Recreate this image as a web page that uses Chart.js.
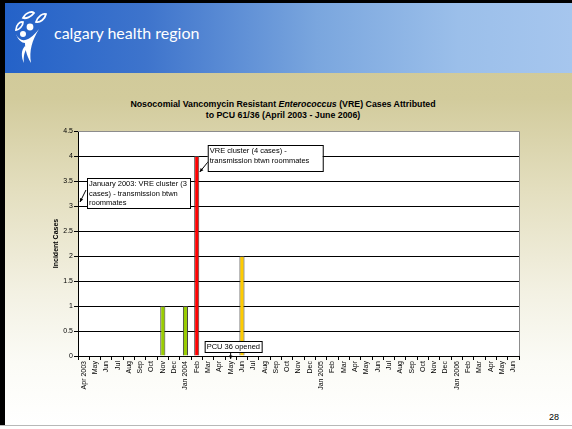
<!DOCTYPE html>
<html>
<head>
<meta charset="utf-8">
<script src="https://cdn.jsdelivr.net/npm/chart.js@4/dist/chart.umd.min.js"></script>
<style>
  html, body { margin: 0; padding: 0; }
  body { width: 572px; height: 429px; position: relative; overflow: hidden; background: #fff; font-family: Arial, "Liberation Sans", sans-serif; }
  #slide { position: absolute; left: 0; top: 0; width: 572px; height: 429px; background: #000; }
  #bg { position: absolute; left: 5px; top: 3px; width: 567px; height: 422px;
        background: linear-gradient(to bottom, #cfc895 0px, #d2cb9c 95px, #e4dfc0 190px, #f3f1e3 290px, #fbfbf6 360px, #ffffff 422px); }
  #bottomline { position: absolute; left: 0; top: 425px; width: 572px; height: 1px; background: #b8b8b8; }
  #bottomwhite { position: absolute; left: 0; top: 426px; width: 572px; height: 3px; background: #fff; }
  #header { position: absolute; left: 5px; top: 3px; width: 567px; height: 70px;
            background: linear-gradient(to right, #2462c8 0%, #3e74cc 25%, #7aa6de 55%, #9bbfea 80%, #a6c6ee 100%); }
  #brand { position: absolute; left: 54px; top: 23px; color: #fff; font-family: Lato, "Open Sans", sans-serif; font-size: 16px; }
  #logo { position: absolute; left: 14px; top: 10px; }
  #title { position: absolute; left: 83px; width: 400px; top: 99px; text-align: center; font-weight: bold; font-size: 8.8px; line-height: 11px; color: #000; }
  #pagenum { position: absolute; left: 549px; top: 412px; font-size: 9px; color: #000; }
  canvas { position: absolute; left: 0; top: 0; }
</style>
</head>
<body>
<div id="slide"></div>
<div id="bg"></div>
<div id="bottomline"></div>
<div id="bottomwhite"></div>
<div id="header"></div>
<svg id="logo" width="36" height="56" viewBox="0 0 36 56">
  <g fill="none" stroke="#fff" stroke-width="1.8">
    <path d="M9 8 C 12 2, 18 1, 20 3 C 17 7, 12 9, 9 8 Z"/>
    <path d="M22 12 C 24 6, 29 3, 32 4 C 31 9, 26 13, 22 12 Z"/>
    <path d="M2 20 C 2 15, 6 11, 9 12 C 9 16, 5 20, 2 20 Z"/>
  </g>
  <g fill="#fff">
    <circle cx="16" cy="17" r="3.4"/>
    <circle cx="9" cy="24" r="3"/>
    <path d="M2 24 C 6 33, 14 33, 25 19 C 18 31, 15 40, 17 53 C 12 45, 11 37, 11 33 C 8 33, 4 30, 2 24 Z"/>
    <path d="M11 36 C 7 40, 7 47, 10 53 C 9 46, 11 41, 13 38 Z"/>
  </g>
</svg>
<div id="brand">calgary health region</div>
<div id="title">Nosocomial Vancomycin Resistant <i>Enterococcus</i> (VRE) Cases Attributed<br>to PCU 61/36 (April 2003 - June 2006)</div>
<div id="pagenum">28</div>
<canvas id="vreChart" width="572" height="429"></canvas>
<script>
// months April 2003 - June 2006
const months = [
    "Apr 2003", "May", "Jun", "Jul", "Aug", "Sep", "Oct", "Nov", "Dec",
    "Jan 2004", "Feb", "Mar", "Apr", "May", "Jun", "Jul", "Aug", "Sep", "Oct", "Nov", "Dec",
    "Jan 2005", "Feb", "Mar", "Apr", "May", "Jun", "Jul", "Aug", "Sep", "Oct", "Nov", "Dec",
    "Jan 2006", "Feb", "Mar", "Apr", "May", "Jun"
];
const cases = [
    0, 0, 0, 0, 0, 0, 0, 1, 0,
    1, 4, 0, 0, 0, 2, 0, 0, 0, 0, 0, 0,
    0, 0, 0, 0, 0, 0, 0, 0, 0, 0, 0, 0,
    0, 0, 0, 0, 0, 0
];
const yTicks = [0, 0.5, 1, 1.5, 2, 2.5, 3, 3.5, 4, 4.5];

// annotation notes: index of month the arrow points at, value, text lines
const notes = [
    { idx: 0, value: 3.1, lines: ["January 2003: VRE cluster (3", "cases) - transmission btwn", "roommates"] },
    { idx: 10, value: 3.68, lines: ["VRE cluster (4 cases) -", "transmission btwn roommates"] },
    { idx: 13, value: 0, lines: ["PCU 36 opened"] }
];

const barColor = v => v >= 4 ? '#ff0000' : (v >= 2 ? '#ffcc00' : '#99cc00');
const FONT = 'Arial, "Liberation Sans", sans-serif';

function arrow(ctx, x1, y1, x2, y2) {
    ctx.beginPath();
    ctx.moveTo(x1, y1);
    ctx.lineTo(x2, y2);
    ctx.stroke();
    const a = Math.atan2(y2 - y1, x2 - x1);
    ctx.beginPath();
    ctx.moveTo(x2, y2);
    ctx.lineTo(x2 - 4 * Math.cos(a - 0.45), y2 - 4 * Math.sin(a - 0.45));
    ctx.lineTo(x2 - 4 * Math.cos(a + 0.45), y2 - 4 * Math.sin(a + 0.45));
    ctx.closePath();
    ctx.fill();
}

function noteBox(ctx, x, y, w, h, lines) {
    ctx.fillStyle = '#fff';
    ctx.fillRect(x, y, w, h);
    ctx.strokeStyle = '#000';
    ctx.lineWidth = 1;
    ctx.strokeRect(x + 0.5, y + 0.5, w, h);
    ctx.fillStyle = '#000';
    ctx.font = '7.5px ' + FONT;
    ctx.textAlign = 'left';
    ctx.textBaseline = 'middle';
    lines.forEach((t, i) => ctx.fillText(t, x + 2, y + 6 + i * 9.6));
}

const slidePlugin = {
    id: 'slidePlugin',
    beforeDraw(chart) {
        const { ctx, chartArea: a } = chart;
        ctx.save();
        ctx.fillStyle = '#fff';
        ctx.fillRect(a.left, a.top, a.right - a.left, a.bottom - a.top);
        ctx.restore();
    },
    afterDraw(chart) {
        const { ctx, chartArea: a } = chart;
        const xs = chart.scales.x, ys = chart.scales.y;
        ctx.save();
        // grey frame top/right
        ctx.strokeStyle = '#8c8c8c';
        ctx.lineWidth = 1;
        ctx.beginPath();
        ctx.moveTo(a.left, a.top + 0.5);
        ctx.lineTo(a.right + 0.5, a.top + 0.5);
        ctx.lineTo(a.right + 0.5, a.bottom);
        ctx.stroke();

        ctx.strokeStyle = '#000';
        ctx.fillStyle = '#000';
        // note 1: arrow to left axis
        const n0 = notes[0];
        arrow(ctx, a.left + 8, ys.getPixelForValue(n0.value) - 11, a.left + 2, ys.getPixelForValue(n0.value) + 1);
        noteBox(ctx, a.left + 9, ys.getPixelForValue(n0.value) - 23, 103, 30, n0.lines);

        // note 2: arrow to top of red bar
        const n1 = notes[1];
        const bx = xs.getPixelForValue(n1.idx);
        const by = ys.getPixelForValue(n1.value);
        ctx.strokeStyle = '#000';
        ctx.fillStyle = '#000';
        arrow(ctx, bx + 12, by - 11, bx + 3, by);
        noteBox(ctx, bx + 11, by - 27, 115, 26, n1.lines);

        // note 3: PCU 36 opened
        const n2 = notes[2];
        const px = xs.getPixelForValue(n2.idx);
        const py = ys.getPixelForValue(n2.value);
        ctx.strokeStyle = '#000';
        ctx.fillStyle = '#000';
        arrow(ctx, px, py - 5, px, py + 3);
        noteBox(ctx, px - 26, py - 15, 57, 11, n2.lines);
        ctx.restore();
    }
};

new Chart(document.getElementById('vreChart'), {
    type: 'bar',
    data: {
        labels: months,
        datasets: [{
            label: 'Incident Cases',
            data: cases,
            backgroundColor: c => barColor(c.raw),
            borderColor: '#3a3a3a',
            borderWidth: c => c.raw > 0 ? 1 : 0,
            barPercentage: 0.9,
            categoryPercentage: 0.5
        }]
    },
    options: {
        responsive: false,
        animation: false,
        devicePixelRatio: 1,
        layout: { padding: { left: 52, top: 131, right: 53, bottom: 0 } },
        plugins: { legend: { display: false }, tooltip: { enabled: false }, title: { display: false } },
        scales: {
            x: {
                afterFit: s => { s.height = 73; },
                grid: { offset: true, drawOnChartArea: false, drawTicks: true, tickLength: 4, color: '#000' },
                border: { color: '#000', width: 1 },
                ticks: { autoSkip: false, maxRotation: 90, minRotation: 90, padding: 1, color: '#000', font: { family: FONT, size: 7 } }
            },
            y: {
                min: 0,
                max: 4.5,
                afterBuildTicks: s => { s.ticks = yTicks.map(v => ({ value: v })); },
                afterFit: s => { s.width = 26; },
                grid: {
                    color: c => c.tick && c.tick.value === 4.5 ? '#8c8c8c' : '#000',
                    tickColor: '#000',
                    tickLength: 4,
                    lineWidth: 1
                },
                border: { color: '#000', width: 1 },
                ticks: { padding: 1, color: '#000', font: { family: FONT, size: 7 }, callback: v => String(v) },
                title: { display: true, text: 'Incident Cases', color: '#000', padding: 0, font: { family: FONT, size: 7, weight: 'bold' } }
            }
        }
    },
    plugins: [slidePlugin]
});
</script>
</body>
</html>
